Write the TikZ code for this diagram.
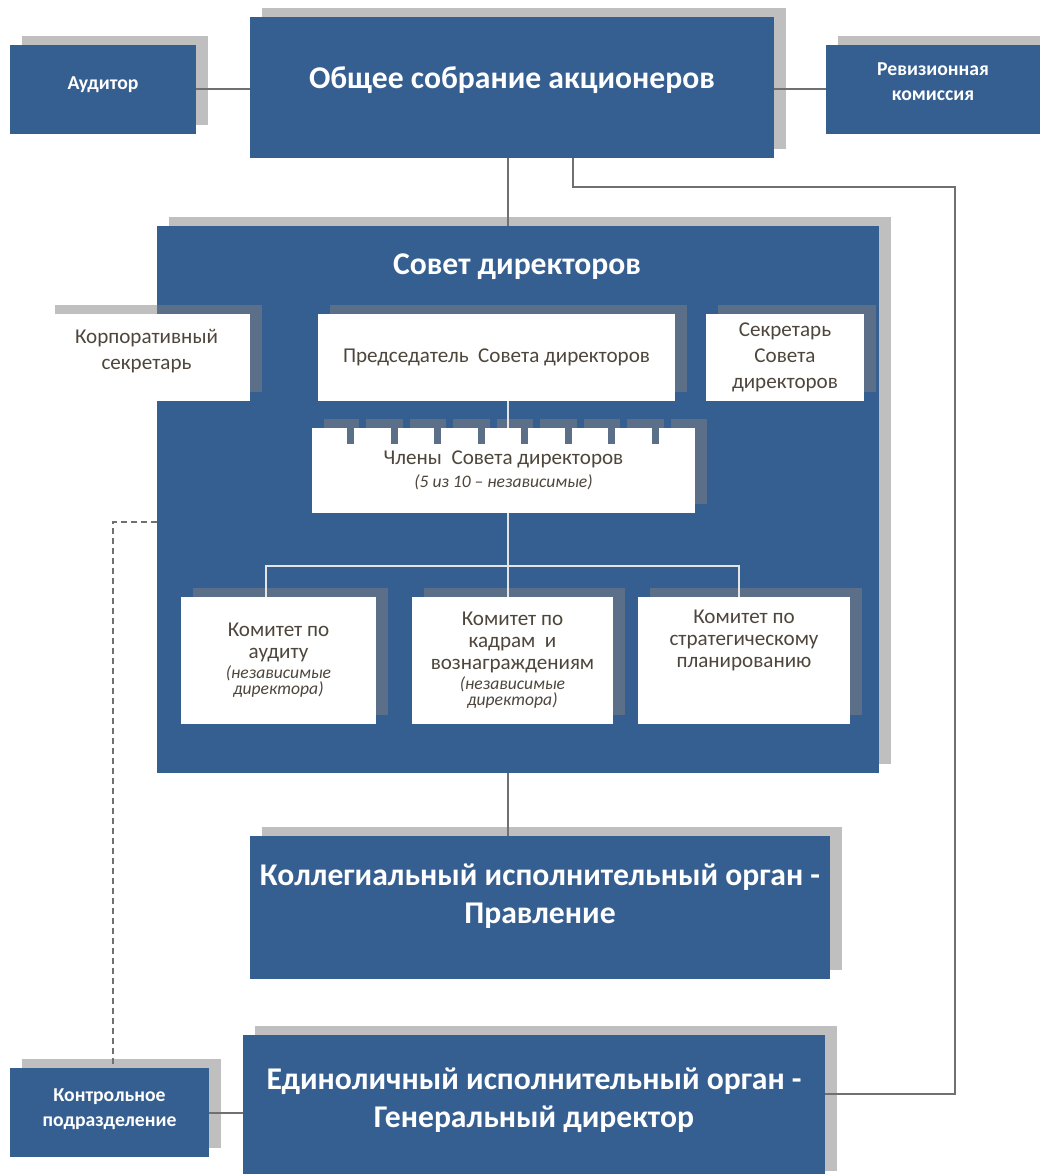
\documentclass[tikz,border=0pt]{standalone}
\usepackage{fontspec}
\setmainfont{Carlito}
\usetikzlibrary{shadows,calc,positioning}
\definecolor{orgblue}{RGB}{54,95,145}
\definecolor{toothblue}{RGB}{91,111,136}
\definecolor{linkgray}{RGB}{112,112,112}
\definecolor{boxtext}{RGB}{78,70,60}
\newcommand{\notetext}[1]{{\fontsize{12.5}{13}\selectfont\itshape #1}}
\begin{document}
\begin{tikzpicture}[x=0.25mm,y=-0.25mm,
    shadowed/.style={drop shadow={shadow xshift=2.9mm,shadow yshift=2.3mm,fill=black!50,opacity=.5}},
    darkbox/.style={rectangle,shadowed,fill=orgblue,text=white,align=center,inner sep=0pt,
        font=\fontsize{22.5}{27}\selectfont\bfseries},
    smalldark/.style={darkbox,font=\fontsize{14}{17.5}\selectfont\bfseries},
    lightbox/.style={rectangle,shadowed,fill=white,text=boxtext,align=center,inner sep=0pt,
        font=\fontsize{15}{18.5}\selectfont},
    combox/.style={lightbox,font=\fontsize{15}{15.5}\selectfont},
    link/.style={draw=linkgray,line width=0.5mm},
    innerlink/.style={draw=white!90!black,line width=0.4mm}]
    \useasboundingbox (0,0) rectangle (1040,1174);
    \clip (0,0) rectangle (1040,1174);
    % top row
    \node[darkbox,minimum width=131mm,minimum height=35.25mm,text depth=14.5pt] (meeting) at (512,87.5) {Общее собрание акционеров};
    \node[smalldark,minimum width=46.5mm,minimum height=22.25mm,text depth=8.5pt] (auditor) at (103,89.5) {Аудитор};
    \node[smalldark,minimum width=53.5mm,minimum height=22.25mm,text depth=11.5pt] (revcom) at (933,89.5) {Ревизионная\\комиссия};
    % board of directors
    \node[darkbox,minimum width=180.5mm,minimum height=136.75mm] (board) at (518,499.5) {};
    \node[text=white,font=\fontsize{22.5}{27}\selectfont\bfseries] (boardtitle) at (517,267) {Совет директоров};
    \node[lightbox,minimum width=51.75mm,minimum height=21.75mm,text depth=11pt] (corpsec) at (146.5,357.5) {Корпоративный\\секретарь};
    \node[lightbox,minimum width=89.25mm,minimum height=21.75mm] (chair) at (496.5,357.5) {Председатель\ \ Совета директоров};
    \node[lightbox,minimum width=39.5mm,minimum height=21.75mm] (boardsec) at (785,357.5) {Секретарь\\Совета\\директоров};
    \node[lightbox,minimum width=95.75mm,minimum height=21.25mm] (members) at (503.5,470.5)
        {Члены\ \ Совета директоров\\[-2.5pt]\notetext{(5 из 10 – независимые)}};
    \foreach \i in {0,...,7} {
        \fill[orgblue] (359+43.5*\i,418) rectangle +(7,10);
        \fill[toothblue] (347+43.5*\i,428) rectangle +(7,16);
    }
    % committees
    \node[combox,minimum width=48.75mm,minimum height=31.75mm] (audcom) at (278.5,660.5)
        {Комитет по\\аудиту\\[-1.5pt]\notetext{(независимые}\\[-3.5pt]\notetext{директора)}};
    \node[combox,minimum width=50.25mm,minimum height=31.75mm] (hrcom) at (512.5,660.5)
        {Комитет по\\кадрам\ \ и\\вознаграждениям\\[-1.5pt]\notetext{(независимые}\\[-3.5pt]\notetext{директора)}};
    \node[combox,minimum width=53mm,minimum height=31.75mm] (stratcom) at (744,660.5)
        {Комитет по\\стратегическому\\планированию\\\mbox{}\\\mbox{}};
    % executive bodies
    \node[darkbox,minimum width=145mm,minimum height=35.75mm,text depth=20pt] (mgmt) at (540,907.5)
        {Коллегиальный исполнительный орган -\\Правление};
    \node[darkbox,minimum width=145.5mm,minimum height=36.25mm,text depth=14.5pt] (ceo) at (534,1107.5)
        {Единоличный исполнительный орган -\\Генеральный директор};
    \node[smalldark,minimum width=49.75mm,minimum height=22.25mm,text depth=7pt] (control) at (109.5,1112.5)
        {Контрольное\\подразделение};
    % connectors
    \coordinate (spine) at (508,0);
    \coordinate (bend) at (955,187);
    \coordinate (split) at (508,566);
    \draw[link] (auditor.east) -- (auditor.east -| meeting.west);
    \draw[link] (revcom.west) -- (revcom.west -| meeting.east);
    \draw[link] (meeting.south -| spine) -- (board.north -| spine);
    \draw[link] ([xshift=15.25mm]meeting.south) |- (bend) |- ([yshift=3.5mm]ceo.east);
    \draw[innerlink] (chair.south -| spine) -- (members.north -| spine);
    \draw[innerlink] (members.south -| spine) -- (hrcom.north -| spine);
    \draw[innerlink] ([xshift=-3.1mm]audcom.north) |- (split) -| ([xshift=-1.25mm]stratcom.north);
    \draw[link] (board.south -| spine) -- (mgmt.north -| spine);
    \draw[link] (control.east) -- (control.east -| ceo.west);
    \draw[link,dash pattern=on 1.5mm off 1mm] ([yshift=-5.6mm]board.west) -| ([xshift=0.9mm]control.north);
\end{tikzpicture}
\end{document}
